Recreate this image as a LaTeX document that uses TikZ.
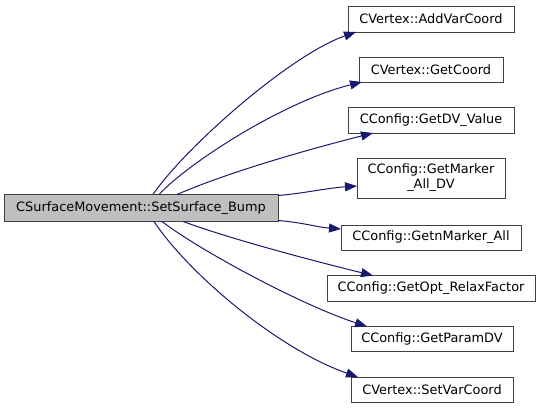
\documentclass[tikz,border=0pt]{standalone}
\usepackage{fontspec}
\setmainfont{DejaVu Sans}
\usetikzlibrary{arrows.meta}
\definecolor{edgeblue}{HTML}{191970}
\definecolor{mainfill}{HTML}{BFBFBF}
\definecolor{boxline}{HTML}{404040}
\begin{document}
\begin{tikzpicture}[x=1pt,y=-1pt,
  box/.style={draw=boxline,line width=1pt,fill=white,inner sep=0pt,outer sep=0pt,
    font=\fontsize{12.9}{15}\selectfont,align=center},
  edge/.style={draw=edgeblue,line width=1pt,-{Triangle[length=12pt,width=9pt]}}]
\useasboundingbox (0,0) rectangle (541,408);
\node[box,fill=mainfill,minimum width=274pt,minimum height=27pt] (main) at (141,208) {CSurfaceMovement::SetSurface\_Bump};
\node[box,minimum width=166pt,minimum height=26pt] (a) at (431,19) {CVertex::AddVarCoord};
\node[box,minimum width=144pt,minimum height=25pt] (b) at (431,69.5) {CVertex::GetCoord};
\node[box,minimum width=166pt,minimum height=26pt] (c) at (431,120) {CConfig::GetDV\_Value};
\node[box,minimum width=148pt,minimum height=40pt] (d) at (431,178) {CConfig::GetMarker\\\_All\_DV};
\node[box,minimum width=180pt,minimum height=25pt] (e) at (431,237.5) {CConfig::GetnMarker\_All};
\node[box,minimum width=208pt,minimum height=26pt] (f) at (431,288.5) {CConfig::GetOpt\_RelaxFactor};
\node[box,minimum width=162pt,minimum height=25pt] (g) at (432,339) {CConfig::GetParamDV};
\node[box,minimum width=162pt,minimum height=25pt] (h) at (432,389.5) {CVertex::SetVarCoord};
\draw[edge] ([xshift=149pt]main.north west) .. controls +(32,-47) and +(-66,23) .. ([xshift=8pt]a.south west);
\draw[edge] ([xshift=155pt]main.north west) .. controls +(31,-33) and +(-77,19) .. ([xshift=3pt]b.south west);
\draw[edge] ([xshift=173pt]main.north west) .. controls +(53,-23) and +(-63,16) .. ([xshift=25pt]c.south west);
\draw[edge] ([yshift=-1pt]main.north east) .. controls +(25,-2) and +(-30,2) .. ([yshift=-8pt]d.west);
\draw[edge] ([yshift=1pt]main.south east) .. controls +(25,2) and +(-25,-2) .. ([yshift=8.5pt]e.west);
\draw[edge] ([xshift=179pt]main.south west) .. controls +(52,19) and +(-53,-13) .. ([xshift=46pt]f.north west);
\draw[edge] ([xshift=158pt]main.south west) .. controls +(38,29) and +(-67,-22) .. ([xshift=16pt]g.north west);
\draw[edge] ([xshift=150pt]main.south west) .. controls +(36,54) and +(-78,-27) .. ([xshift=7pt]h.north west);
\end{tikzpicture}
\end{document}
